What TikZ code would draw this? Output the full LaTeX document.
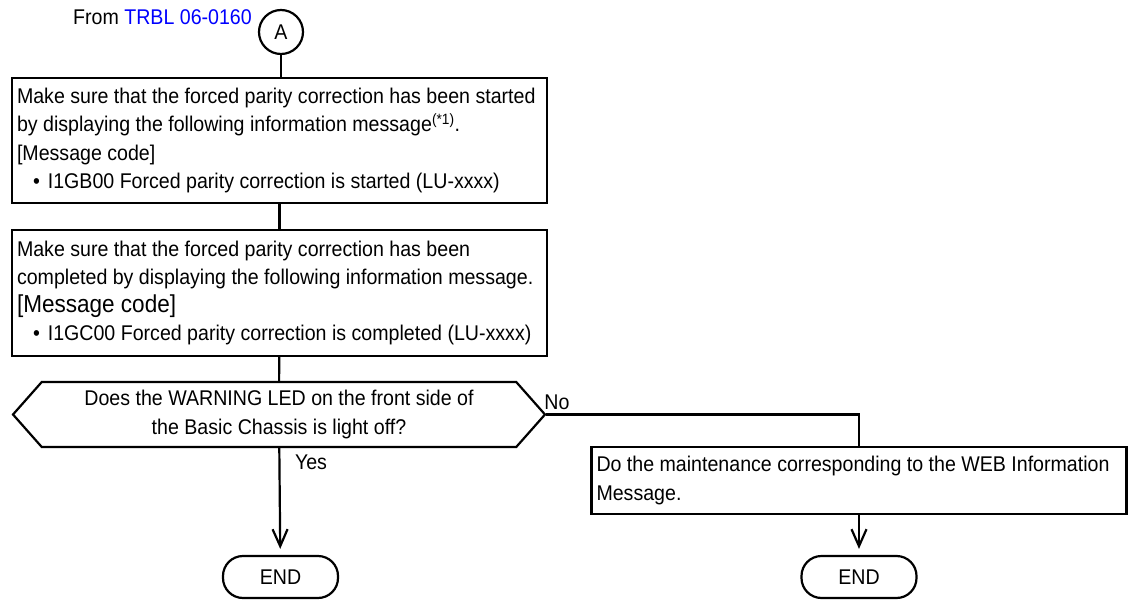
\documentclass[tikz,border=0pt]{standalone}
\usepackage{fontspec}
\setmainfont{Liberation Sans}[FakeStretch=0.92]
\usepackage{xcolor}
\usetikzlibrary{shapes.geometric,shapes.symbols,arrows.meta}
\tikzstyle{process} = [rectangle, draw=black, line width=2.2pt, align=flush left, text width=525pt, inner xsep=5pt, inner ysep=0pt]
\tikzstyle{decision} = [signal, signal to=east and west, signal pointer angle=97, draw=black, line width=2.2pt, minimum width=532pt, minimum height=65pt, inner sep=0pt, align=center]
\tikzstyle{terminal} = [rectangle, rounded corners=20pt, draw=black, line width=2.2pt, minimum width=115pt, minimum height=42pt]
\tikzstyle{connector} = [circle, draw=black, line width=2.2pt, minimum size=44pt, inner sep=0pt]
\tikzstyle{line} = [line width=2.2pt]
\tikzstyle{arrow} = [line width=2.2pt, -{Straight Barb[length=17pt,width=15pt]}, shorten >=6pt]

\begin{document}
\fontsize{21.3pt}{28.3pt}\selectfont
\begin{tikzpicture}[x=1pt, y=-1pt]
\useasboundingbox (0,0) rectangle (1128,602);

\node (from) [anchor=east, inner sep=0pt] at (252,17) {From \textcolor{blue}{TRBL 06-0160}};
\node (a) [connector] at (281,32) {A};
\node (chk1) [process, minimum height=125pt] at (279.5,140.5) {Make sure that the forced parity correction has been started\\
by displaying the following information message\textsuperscript{(*1)}.\\
{[Message code]}\\
\hspace*{16pt}•\hspace{8pt}I1GB00 Forced parity correction is started (LU-xxxx)};
\node (chk2) [process, minimum height=126pt] at (279.5,293) {Make sure that the forced parity correction has been\\
completed by displaying the following information message.\\
{\fontsize{24.5pt}{28.3pt}\selectfont [Message code]}\\
\hspace*{16pt}•\hspace{8pt}I1GC00 Forced parity correction is completed (LU-xxxx)};
\node (led) [decision] at (279,414.5) {Does the WARNING LED on the front side of\\the Basic Chassis is light off?};
\node (yes) at (311,462) {Yes};
\node (no) at (557,402) {No};
\node (maint) [process, minimum height=67pt] at (859,480.5) {Do the maintenance corresponding to the WEB Information\\Message.};
\node (end1) [terminal] at (280.5,577) {END};
\node (end2) [terminal] at (859,577) {END};

\draw [line] (a) -- (a |- chk1.north);
\draw [line] (chk1) -- (chk2);
\draw [line] (chk2) -- (led);
\draw [arrow] (led) -- (end1);
\draw [line] (led.east) -| (maint.north);
\draw [arrow] (maint) -- (end2);

\end{tikzpicture}
\end{document}
